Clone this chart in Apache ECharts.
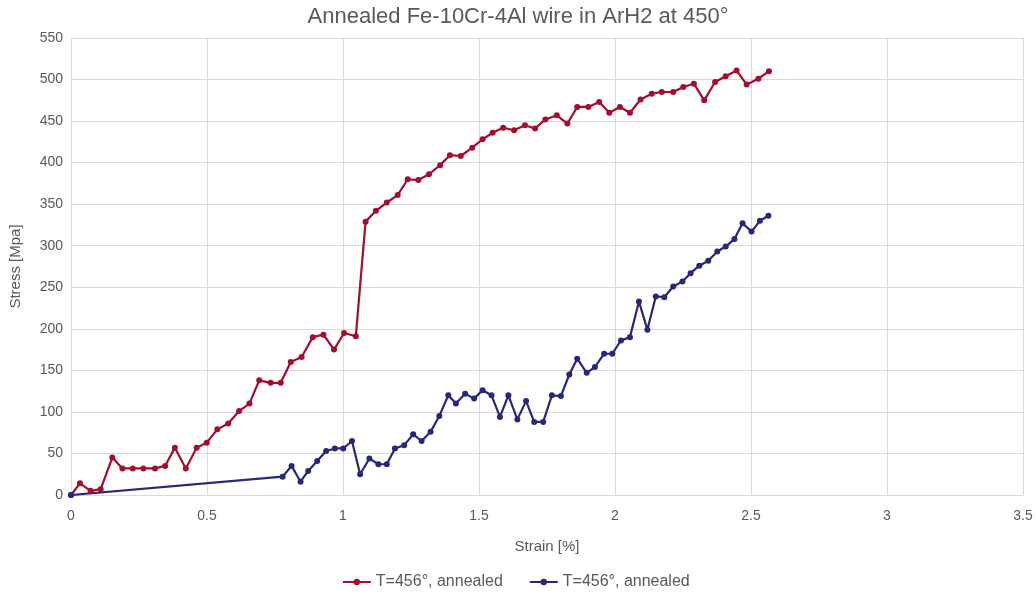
<!DOCTYPE html>
<html>
<head>
<meta charset="utf-8">
<script src="https://cdn.jsdelivr.net/npm/echarts@6/dist/echarts.min.js"></script>
<style>html,body{margin:0;padding:0;background:#fff}#c{width:1036px;height:596px}</style>
</head>
<body>
<div id="c"></div>
<script>
const title = 'Annealed Fe-10Cr-4Al wire in ArH2 at 450°';
const xName = 'Strain [%]';
const yName = 'Stress [Mpa]';
const seriesNames = ['T=456°, annealed', 'T=456°, annealed'];

const redX = [0, 0.033, 0.072, 0.109, 0.152, 0.189, 0.227, 0.266, 0.309, 0.346, 0.382, 0.422, 0.462, 0.499, 0.538, 0.578, 0.618, 0.656, 0.692, 0.734, 0.771, 0.808, 0.848, 0.889, 0.928, 0.967, 1.004, 1.047, 1.083, 1.121, 1.161, 1.201, 1.238, 1.277, 1.316, 1.357, 1.393, 1.433, 1.475, 1.513, 1.55, 1.589, 1.629, 1.669, 1.706, 1.744, 1.786, 1.825, 1.861, 1.902, 1.942, 1.979, 2.018, 2.055, 2.094, 2.135, 2.172, 2.214, 2.251, 2.29, 2.328, 2.368, 2.407, 2.447, 2.484, 2.527, 2.566];
const redY = [0, 14, 5, 7, 45, 32, 32, 32, 32, 35, 57, 32, 57, 63, 79, 86, 101, 110, 138, 135, 135, 160, 166, 190, 193, 175, 195, 191, 329, 342, 352, 361, 380, 379, 386, 397, 409, 408, 418, 428, 436, 442, 439, 445, 441, 452, 457, 447, 467, 467, 473, 460, 467, 460, 476, 483, 485, 485, 491, 495, 475, 497, 504, 511, 494, 501, 510];

const blueX = [0, 0.778, 0.811, 0.844, 0.872, 0.905, 0.938, 0.97, 1.001, 1.033, 1.063, 1.097, 1.13, 1.161, 1.191, 1.225, 1.258, 1.289, 1.322, 1.354, 1.387, 1.415, 1.449, 1.482, 1.513, 1.546, 1.577, 1.608, 1.641, 1.673, 1.703, 1.736, 1.768, 1.801, 1.832, 1.861, 1.896, 1.926, 1.96, 1.99, 2.022, 2.055, 2.088, 2.119, 2.15, 2.181, 2.214, 2.248, 2.278, 2.31, 2.343, 2.376, 2.407, 2.439, 2.469, 2.502, 2.533, 2.564];
const blueY = [0, 22, 35, 16, 29, 41, 53, 56, 56, 65, 25, 44, 37, 37, 56, 60, 73, 65, 76, 95, 120, 110, 122, 116, 126, 120, 94, 120, 91, 113, 88, 88, 120, 119, 145, 164, 147, 154, 170, 170, 186, 190, 233, 199, 239, 238, 251, 257, 267, 276, 282, 293, 299, 308, 327, 317, 330, 336];

const xTicks = {min: 0, max: 3.5, interval: 0.5};
const yTicks = {min: 0, max: 550, interval: 50};

const pairs = (xs, ys) => xs.map((x, i) => [x, ys[i]]);
const red = '#a50d2e';
const blue = '#27287a';
const FF = '"Liberation Sans", Arial, sans-serif';

const chart = echarts.init(document.getElementById('c'), null, {renderer: 'canvas'});
const lbl = {color: '#595959', fontSize: 14, fontFamily: FF};
chart.setOption({
  animation: false,
  title: {text: title, left: 'center', top: 1, textStyle: {color: '#595959', fontSize: 22, fontWeight: 'normal', fontFamily: FF}},
  grid: {left: 70, right: 13, top: 38, bottom: 101},
  legend: {bottom: 1, left: 'center', itemWidth: 28, itemHeight: 8, itemGap: 26,
    textStyle: {color: '#595959', fontSize: 16, fontFamily: FF},
    data: [seriesNames[0], seriesNames[1] + ' ']},
  xAxis: {type: 'value', min: xTicks.min, max: xTicks.max, interval: xTicks.interval,
    name: xName, nameLocation: 'middle', nameGap: 44, nameTextStyle: {color: '#595959', fontSize: 15, fontFamily: FF},
    axisLine: {show: true, lineStyle: {color: '#d9d9d9'}}, axisTick: {show: false},
    axisLabel: Object.assign({margin: 14}, lbl),
    splitLine: {show: true, lineStyle: {color: '#d9d9d9', width: 1}}},
  yAxis: {type: 'value', min: yTicks.min, max: yTicks.max, interval: yTicks.interval,
    name: yName, nameLocation: 'middle', nameGap: 48, nameTextStyle: {color: '#595959', fontSize: 15, fontFamily: FF},
    axisLine: {show: true, lineStyle: {color: '#d9d9d9'}}, axisTick: {show: false},
    axisLabel: Object.assign({margin: 8}, lbl),
    splitLine: {show: true, lineStyle: {color: '#d9d9d9', width: 1}}},
  series: [
    {name: seriesNames[0], id: 'red', type: 'line', data: pairs(redX, redY), symbol: 'circle', symbolSize: 6,
      lineStyle: {color: red, width: 2.2}, itemStyle: {color: red}},
    {name: seriesNames[1] + ' ', id: 'blue', type: 'line', data: pairs(blueX, blueY), symbol: 'circle', symbolSize: 6,
      lineStyle: {color: blue, width: 2.2}, itemStyle: {color: blue}}
  ]
});
</script>
</body>
</html>
